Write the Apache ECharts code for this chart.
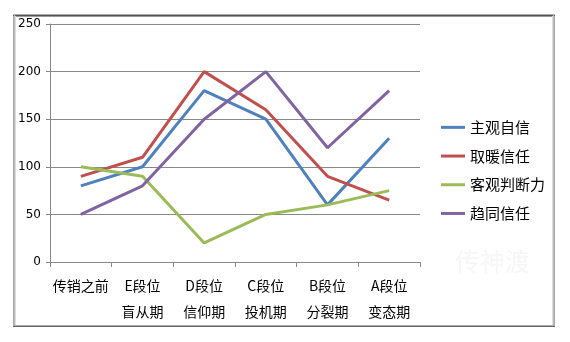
<!DOCTYPE html>
<html>
<head>
<meta charset="utf-8">
<script src="https://cdn.jsdelivr.net/npm/echarts@6/dist/echarts.min.js"></script>
<style>
html,body{margin:0;padding:0;background:#fff;}
#c{width:570px;height:342px;}
</style>
</head>
<body>
<div id="c"></div>
<script>
var categories = ['传销之前', 'E段位\n盲从期', 'D段位\n信仰期', 'C段位\n投机期', 'B段位\n分裂期', 'A段位\n变态期'];
var seriesNames = ['主观自信', '取暖信任', '客观判断力', '趋同信任'];
var zhuguanZixin = [80, 100, 180, 150, 60, 130];
var qunuanXinren = [90, 110, 200, 160, 90, 65];
var keguanPanduan = [100, 90, 20, 50, 60, 75];
var quTongXinren = [50, 80, 150, 200, 120, 180];
var colors = ['#4F81BD', '#C0504D', '#9BBB59', '#8064A2'];
var yTicks = [0, 50, 100, 150, 200, 250];

var allData = [zhuguanZixin, qunuanXinren, keguanPanduan, quTongXinren];
var chart = echarts.init(document.getElementById('c'), null, {renderer: 'canvas'});
var font = '"Noto Sans CJK SC", "DejaVu Sans", sans-serif';

chart.setOption({
  animation: false,
  backgroundColor: '#fff',
  color: colors,
  grid: {left: 50, top: 24, right: 150, bottom: 80, containLabel: false},
  graphic: [
    {type: 'text', left: 455, top: 249, silent: true, z: 0,
      style: {text: '传神渡', fontSize: 25, fontFamily: font, fill: '#f6f6f6'}},
    {type: 'rect', shape: {x: 13.5, y: 14.5, width: 541, height: 312}, silent: true,
      style: {fill: 'none', stroke: '#aaa', lineWidth: 1}},
    {type: 'line', shape: {x1: 13, y1: 15.5, x2: 555, y2: 15.5}, silent: true, style: {stroke: '#555', lineWidth: 1}},
    {type: 'line', shape: {x1: 14, y1: 16.5, x2: 554, y2: 16.5}, silent: true, style: {stroke: '#999', lineWidth: 1}},
    {type: 'line', shape: {x1: 14.5, y1: 15, x2: 14.5, y2: 327}, silent: true, style: {stroke: '#bbb', lineWidth: 1}},
    {type: 'line', shape: {x1: 15.5, y1: 16, x2: 15.5, y2: 326}, silent: true, style: {stroke: '#ddd', lineWidth: 1}},
    {type: 'line', shape: {x1: 553.5, y1: 15, x2: 553.5, y2: 327}, silent: true, style: {stroke: '#bbb', lineWidth: 1}},
    {type: 'line', shape: {x1: 552.5, y1: 16, x2: 552.5, y2: 326}, silent: true, style: {stroke: '#ddd', lineWidth: 1}},
    {type: 'line', shape: {x1: 13, y1: 326.5, x2: 555, y2: 326.5}, silent: true, style: {stroke: '#666', lineWidth: 1}},
    {type: 'line', shape: {x1: 14, y1: 325.5, x2: 554, y2: 325.5}, silent: true, style: {stroke: '#aaa', lineWidth: 1}}
  ],
  legend: {
    orient: 'vertical',
    left: 441,
    top: 113,
    padding: 0,
    icon: 'rect',
    itemWidth: 24,
    itemHeight: 3,
    itemGap: 0,
    data: seriesNames,
    textStyle: {fontSize: 15, fontFamily: font, color: '#000', lineHeight: 28.7}
  },
  xAxis: {
    type: 'category',
    data: categories,
    boundaryGap: true,
    axisLine: {lineStyle: {color: '#888', width: 1}},
    axisTick: {show: true, length: 5, lineStyle: {color: '#888'}},
    axisLabel: {interval: 0, margin: 11, fontSize: 14, lineHeight: 26, color: '#000', fontFamily: font, verticalAlign: 'top'},
    splitLine: {show: false}
  },
  yAxis: {
    type: 'value',
    min: 0, max: 250, interval: 50,
    axisLine: {show: true, lineStyle: {color: '#888', width: 1}},
    axisTick: {show: true, length: 4, lineStyle: {color: '#888'}},
    axisLabel: {fontSize: 12, color: '#000', fontFamily: '"DejaVu Sans", sans-serif', margin: 9,
      formatter: function (v) { return yTicks.indexOf(v) >= 0 ? String(v) : ''; }},
    splitLine: {show: true, lineStyle: {color: '#888', width: 1}}
  },
  series: seriesNames.map(function (n, i) {
    return {
      name: n, type: 'line', data: allData[i], symbol: 'none',
      lineStyle: {width: 3, color: colors[i]}, itemStyle: {color: colors[i]}
    };
  })
});
</script>
</body>
</html>
